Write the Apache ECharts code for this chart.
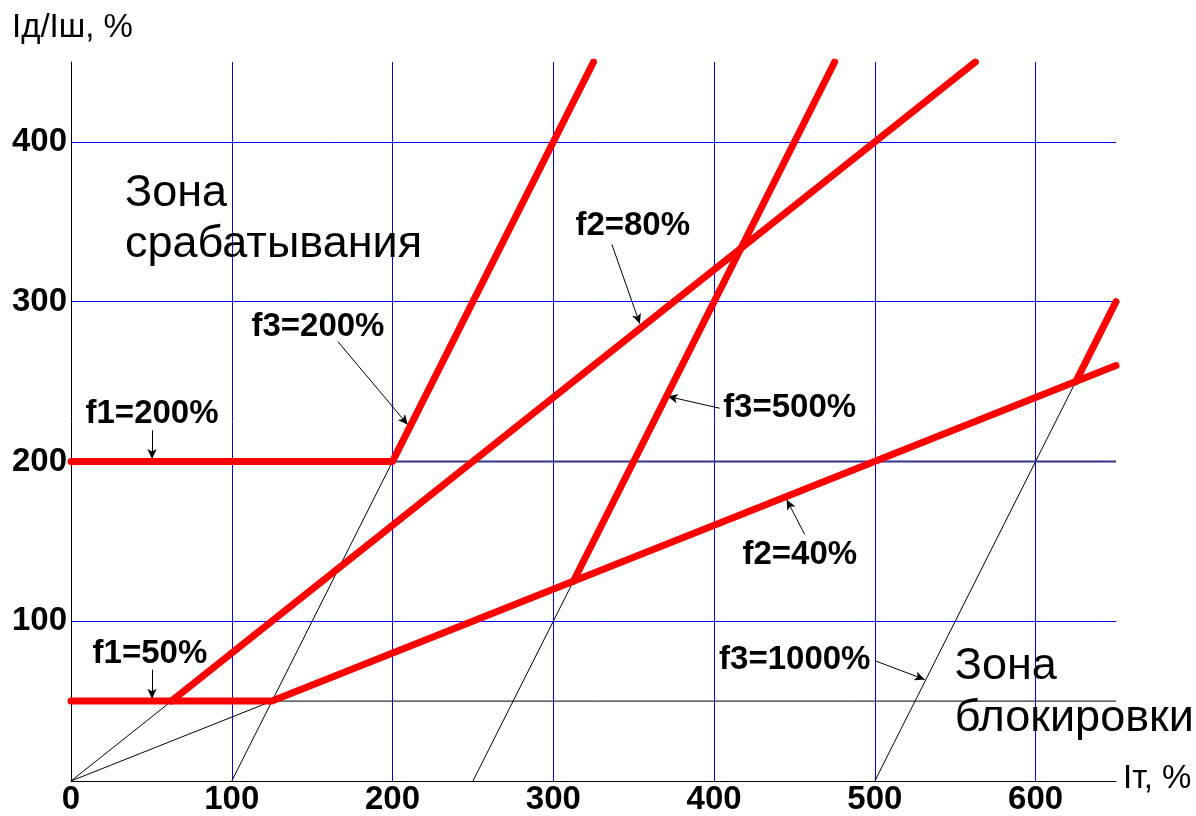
<!DOCTYPE html>
<html>
<head>
    <meta charset="UTF-8">
    <title>Характеристика срабатывания</title>
    <style>
        body { margin: 0; background: #fff; }
        #chart { width: 1196px; height: 816px; }
    </style>
</head>
<body>
    <div id="chart"></div>
    <script src="https://cdn.jsdelivr.net/npm/echarts@6/dist/echarts.min.js"></script>
    <script>
        // оси
        const xTicks = [0, 100, 200, 300, 400, 500, 600];
        const yTicks = [100, 200, 300, 400];

        // красные характеристики (Iт, Iд/Iш)
        const redF1_200 = [[0, 200], [200, 200], [325, 450]];
        const redF2_80 = [[62.5, 50], [562.5, 450]];
        const redF1_50 = [[0, 50], [125, 50], [650, 260]];
        const redF3_500 = [[312.5, 125], [475, 450]];
        const redF3_1000 = [[625, 250], [650, 300]];

        // тонкие вспомогательные линии
        const thinLines = [
            [[0, 0], [62.5, 50]],
            [[0, 0], [125, 50]],
            [[100, 0], [200, 200]],
            [[250, 0], [312.5, 125]],
            [[500, 0], [625, 250]],
            [[0, 50], [650, 50]]
        ];
        const line200 = [[0, 200], [650, 200]];

        // подписи и стрелки: текст, позиция текста, начало стрелки, конец стрелки
        const notes = [
            ['f1=200%', [50.4, 230], [50.4, 219.5], [50.4, 201.5]],
            ['f3=200%', [153.6, 284.3], [166, 275], [209.5, 223]],
            ['f2=80%', [349.4, 347.7], [336.4, 335.9], [353.8, 286.2]],
            ['f3=500%', [447, 233.3], [403.5, 233.3], [371.2, 240.7]],
            ['f2=40%', [453.3, 141.8], [456.4, 154.3], [445.2, 176]],
            ['f1=50%', [49.1, 79.6], [50.4, 69.7], [50.4, 51.5]],
            ['f3=1000%', [450.2, 75.9], [500, 75.3], [531, 63.5]]
        ];
        const zones = [
            ['Зона', [33.6, 367.6]],
            ['срабатывания', [33.6, 335.9]],
            ['Зона', [549.7, 71.5]],
            ['блокировки', [549.7, 39.2]]
        ];

        const chart = echarts.init(document.getElementById('chart'));
        const FONT = 'Liberation Sans, Arial, sans-serif';

        function redSeries(data) {
            return {
                type: 'line', data: data, showSymbol: false, symbol: 'none',
                lineStyle: { color: '#ff0000', width: 7, cap: 'round', join: 'round' },
                z: 5, animation: false, silent: true
            };
        }

        const series = [];
        thinLines.forEach(d => series.push({
            type: 'line', data: d, symbol: 'none',
            lineStyle: { color: '#000', width: 1 }, z: 3, animation: false, silent: true
        }));
        series.push({
            type: 'line', data: line200, symbol: 'none',
            lineStyle: { color: '#333388', width: 2 }, z: 3, animation: false, silent: true
        });
        [redF1_200, redF2_80, redF1_50, redF3_500, redF3_1000].forEach(d => series.push(redSeries(d)));

        // стрелки
        series.push({
            type: 'line', data: [], animation: false, silent: true,
            markLine: {
                silent: true, animation: false,
                symbol: ['none', 'arrow'], symbolSize: [7, 10],
                lineStyle: { color: '#000', width: 1, type: 'solid' },
                label: { show: false },
                data: notes.map(n => [{ coord: n[2] }, { coord: n[3] }])
            },
            z: 6
        });
        // подписи
        series.push({
            type: 'scatter', symbolSize: 0, animation: false, silent: true, clip: false,
            itemStyle: { opacity: 1, color: '#000' },
            data: notes.map(n => ({ value: n[1], name: n[0] })),
            label: {
                show: true, position: 'inside', formatter: p => p.name,
                fontFamily: FONT, fontWeight: 'bold', fontSize: 33, color: '#000',
                textBorderWidth: 0
            },
            z: 7
        });
        series.push({
            type: 'scatter', symbolSize: 0, animation: false, silent: true, clip: false,
            itemStyle: { opacity: 1, color: '#000' },
            data: zones.map(n => ({ value: n[1], name: n[0] })),
            label: {
                show: true, position: 'right', distance: 0, formatter: p => p.name,
                fontFamily: FONT, fontSize: 45, color: '#000', align: 'left',
                textBorderWidth: 0
            },
            z: 7
        });

        chart.setOption({
            animation: false,
            grid: { left: 71, right: 80, top: 62, bottom: 31 },
            xAxis: {
                type: 'value', min: 0, max: 650, interval: 100,
                axisLine: { lineStyle: { color: '#000', width: 1 } },
                axisTick: { show: false },
                axisLabel: {
                    fontFamily: FONT, fontWeight: 'bold', fontSize: 33, color: '#000',
                    margin: 2, showMaxLabel: false,
                    formatter: v => xTicks.includes(v) ? String(v) : ''
                },
                splitLine: { show: true, showMinLine: false, showMaxLine: false, lineStyle: { color: '#0000ff', width: 1 } }
            },
            yAxis: {
                type: 'value', min: 0, max: 450, interval: 100,
                axisLine: { show: true, lineStyle: { color: '#000', width: 1 } },
                axisTick: { show: false },
                axisLabel: {
                    fontFamily: FONT, fontWeight: 'bold', fontSize: 33, color: '#000',
                    margin: 4, showMinLabel: false, showMaxLabel: false,
                    formatter: v => yTicks.includes(v) ? String(v) : ''
                },
                splitLine: { show: true, showMinLine: false, showMaxLine: false, lineStyle: { color: '#0000ff', width: 1 } }
            },
            graphic: [
                { type: 'text', left: 12, top: 11, style: { text: 'Iд/Iш, %', font: '33px ' + FONT, fill: '#000' } },
                { type: 'text', left: 1123, top: 762, style: { text: 'Iт, %', font: '33px ' + FONT, fill: '#000' } }
            ],
            series: series
        });
    </script>
</body>
</html>
